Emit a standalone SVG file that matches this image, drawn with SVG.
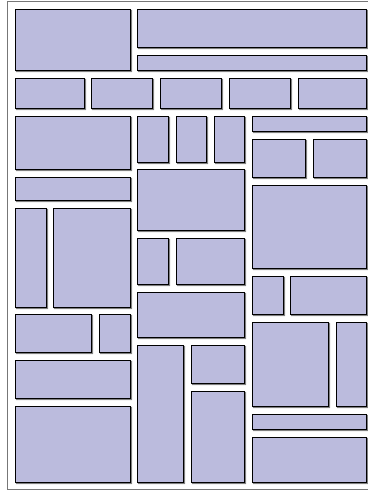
<svg xmlns="http://www.w3.org/2000/svg" width="368" height="491" viewBox="0 0 368 491">
<style>
.frame{fill:#ffffff;stroke:#777777;stroke-width:1}
.n rect.s{fill:none;stroke:#808080;stroke-width:1.2;transform:translate(1px,1px)}
.n rect.b{fill:#bbbbdd;stroke:#000000;stroke-width:1}
</style>
<rect x="0" y="0" width="368" height="491" fill="#ffffff"/>
<rect class="frame" x="7.5" y="1.5" width="372" height="488"/>
<g id="connectors"/>
<g id="n1" class="n"><rect class="s" x="15.5" y="9.5" width="115" height="61"/><rect class="b" x="15.5" y="9.5" width="115" height="61"/></g>
<g id="n2" class="n"><rect class="s" x="137.5" y="9.5" width="229" height="38"/><rect class="b" x="137.5" y="9.5" width="229" height="38"/></g>
<g id="n3" class="n"><rect class="s" x="137.5" y="55.5" width="229" height="15"/><rect class="b" x="137.5" y="55.5" width="229" height="15"/></g>
<g id="n4" class="n"><rect class="s" x="15.5" y="78.5" width="69" height="30"/><rect class="b" x="15.5" y="78.5" width="69" height="30"/></g>
<g id="n5" class="n"><rect class="s" x="91.5" y="78.5" width="61" height="30"/><rect class="b" x="91.5" y="78.5" width="61" height="30"/></g>
<g id="n6" class="n"><rect class="s" x="160.5" y="78.5" width="61" height="30"/><rect class="b" x="160.5" y="78.5" width="61" height="30"/></g>
<g id="n7" class="n"><rect class="s" x="229.5" y="78.5" width="61" height="30"/><rect class="b" x="229.5" y="78.5" width="61" height="30"/></g>
<g id="n8" class="n"><rect class="s" x="298.5" y="78.5" width="68" height="30"/><rect class="b" x="298.5" y="78.5" width="68" height="30"/></g>
<g id="n9" class="n"><rect class="s" x="15.5" y="116.5" width="115" height="53"/><rect class="b" x="15.5" y="116.5" width="115" height="53"/></g>
<g id="n10" class="n"><rect class="s" x="137.5" y="116.5" width="31" height="46"/><rect class="b" x="137.5" y="116.5" width="31" height="46"/></g>
<g id="n11" class="n"><rect class="s" x="176.5" y="116.5" width="30" height="46"/><rect class="b" x="176.5" y="116.5" width="30" height="46"/></g>
<g id="n12" class="n"><rect class="s" x="214.5" y="116.5" width="30" height="46"/><rect class="b" x="214.5" y="116.5" width="30" height="46"/></g>
<g id="n13" class="n"><rect class="s" x="252.5" y="116.5" width="114" height="15"/><rect class="b" x="252.5" y="116.5" width="114" height="15"/></g>
<g id="n14" class="n"><rect class="s" x="252.5" y="139.5" width="53" height="38"/><rect class="b" x="252.5" y="139.5" width="53" height="38"/></g>
<g id="n15" class="n"><rect class="s" x="313.5" y="139.5" width="53" height="38"/><rect class="b" x="313.5" y="139.5" width="53" height="38"/></g>
<g id="n16" class="n"><rect class="s" x="15.5" y="177.5" width="115" height="23"/><rect class="b" x="15.5" y="177.5" width="115" height="23"/></g>
<g id="n17" class="n"><rect class="s" x="137.5" y="169.5" width="107" height="61"/><rect class="b" x="137.5" y="169.5" width="107" height="61"/></g>
<g id="n18" class="n"><rect class="s" x="252.5" y="185.5" width="114" height="83"/><rect class="b" x="252.5" y="185.5" width="114" height="83"/></g>
<g id="n19" class="n"><rect class="s" x="15.5" y="208.5" width="31" height="99"/><rect class="b" x="15.5" y="208.5" width="31" height="99"/></g>
<g id="n20" class="n"><rect class="s" x="53.5" y="208.5" width="77" height="99"/><rect class="b" x="53.5" y="208.5" width="77" height="99"/></g>
<g id="n21" class="n"><rect class="s" x="137.5" y="238.5" width="31" height="46"/><rect class="b" x="137.5" y="238.5" width="31" height="46"/></g>
<g id="n22" class="n"><rect class="s" x="176.5" y="238.5" width="68" height="46"/><rect class="b" x="176.5" y="238.5" width="68" height="46"/></g>
<g id="n23" class="n"><rect class="s" x="252.5" y="276.5" width="31" height="38"/><rect class="b" x="252.5" y="276.5" width="31" height="38"/></g>
<g id="n24" class="n"><rect class="s" x="290.5" y="276.5" width="76" height="38"/><rect class="b" x="290.5" y="276.5" width="76" height="38"/></g>
<g id="n25" class="n"><rect class="s" x="137.5" y="292.5" width="107" height="45"/><rect class="b" x="137.5" y="292.5" width="107" height="45"/></g>
<g id="n26" class="n"><rect class="s" x="15.5" y="314.5" width="76" height="38"/><rect class="b" x="15.5" y="314.5" width="76" height="38"/></g>
<g id="n27" class="n"><rect class="s" x="99.5" y="314.5" width="31" height="38"/><rect class="b" x="99.5" y="314.5" width="31" height="38"/></g>
<g id="n28" class="n"><rect class="s" x="252.5" y="322.5" width="76" height="84"/><rect class="b" x="252.5" y="322.5" width="76" height="84"/></g>
<g id="n29" class="n"><rect class="s" x="336.5" y="322.5" width="30" height="84"/><rect class="b" x="336.5" y="322.5" width="30" height="84"/></g>
<g id="n30" class="n"><rect class="s" x="137.5" y="345.5" width="46" height="137"/><rect class="b" x="137.5" y="345.5" width="46" height="137"/></g>
<g id="n31" class="n"><rect class="s" x="191.5" y="345.5" width="53" height="38"/><rect class="b" x="191.5" y="345.5" width="53" height="38"/></g>
<g id="n32" class="n"><rect class="s" x="191.5" y="391.5" width="53" height="91"/><rect class="b" x="191.5" y="391.5" width="53" height="91"/></g>
<g id="n33" class="n"><rect class="s" x="15.5" y="360.5" width="115" height="38"/><rect class="b" x="15.5" y="360.5" width="115" height="38"/></g>
<g id="n34" class="n"><rect class="s" x="15.5" y="406.5" width="115" height="76"/><rect class="b" x="15.5" y="406.5" width="115" height="76"/></g>
<g id="n35" class="n"><rect class="s" x="252.5" y="414.5" width="114" height="15"/><rect class="b" x="252.5" y="414.5" width="114" height="15"/></g>
<g id="n36" class="n"><rect class="s" x="252.5" y="437.5" width="114" height="45"/><rect class="b" x="252.5" y="437.5" width="114" height="45"/></g>
</svg>
